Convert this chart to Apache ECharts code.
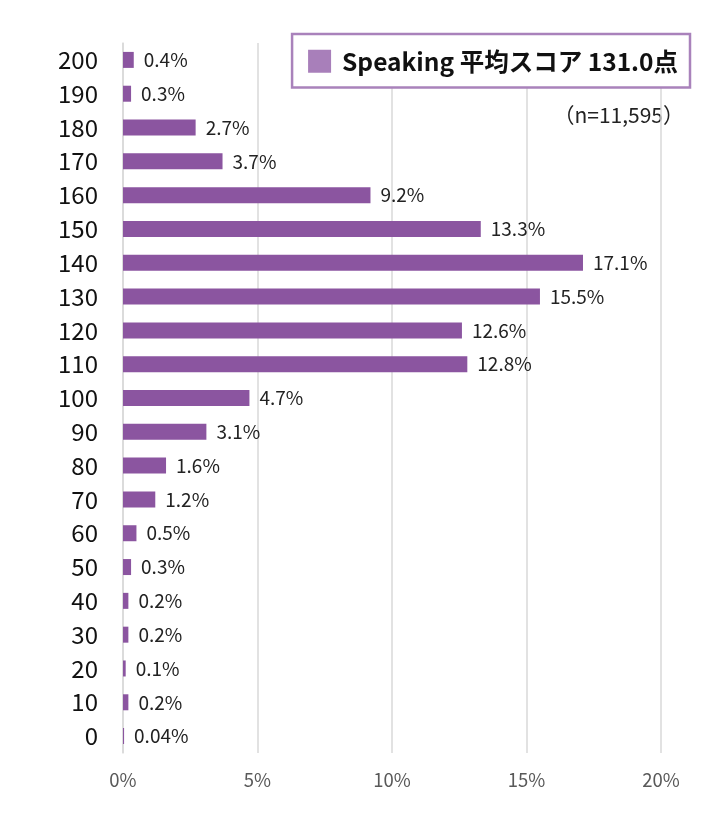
<!DOCTYPE html>
<html><head><meta charset="utf-8">
<script src="https://cdn.jsdelivr.net/npm/echarts@6/dist/echarts.min.js"></script>
<style>html,body{margin:0;padding:0;background:#fff}#c{width:720px;height:820px}</style>
</head><body><div id="c"></div>
<script>
const categories = ['0','10','20','30','40','50','60','70','80','90','100','110','120','130','140','150','160','170','180','190','200'];
const values = [0.04,0.2,0.1,0.2,0.2,0.3,0.5,1.2,1.6,3.1,4.7,12.8,12.6,15.5,17.1,13.3,9.2,3.7,2.7,0.3,0.4];
const valueLabels = ['0.04%','0.2%','0.1%','0.2%','0.2%','0.3%','0.5%','1.2%','1.6%','3.1%','4.7%','12.8%','12.6%','15.5%','17.1%','13.3%','9.2%','3.7%','2.7%','0.3%','0.4%'];
const seriesName = 'Speaking 平均スコア 131.0点';
const noteText = '（n=11,595）';
const FONT = '"Noto Sans CJK JP", "Noto Sans", sans-serif';
const chart = echarts.init(document.getElementById('c'));
chart.setOption({
  animation: false,
  textStyle: {fontFamily: FONT},
  grid: {left: 123, right: 59, top: 43, bottom: 67, containLabel: false},
  legend: {
    right: 30, top: 34, orient: 'horizontal',
    padding: [15, 12, 14, 16],
    borderColor: '#a982bb', borderWidth: 2.5, borderRadius: 0,
    backgroundColor: '#fff',
    itemWidth: 23, itemHeight: 23, itemGap: 10,
    icon: 'rect',
    textStyle: {fontSize: 24.5, fontWeight: 'bold', color: '#111', fontFamily: FONT, padding: [0, 0, 0, 6]},
    data: [{name: seriesName, itemStyle: {color: '#a87fba'}}]
  },
  graphic: [{
    type: 'text', right: 36, top: 105,
    style: {text: noteText, fontSize: 21, fill: '#222', fontFamily: FONT}
  }],
  xAxis: {
    type: 'value', min: 0, max: 20, interval: 5,
    axisLabel: {formatter: '{value}%', fontSize: 18.5, color: '#595959', margin: 18},
    splitLine: {show: true, lineStyle: {color: '#d9d9d9', width: 1.5}},
    axisLine: {show: false}, axisTick: {show: false}
  },
  yAxis: {
    type: 'category', data: categories,
    axisLabel: {fontSize: 24, color: '#111', margin: 25},
    axisLine: {show: true, lineStyle: {color: '#d9d9d9', width: 1.5}},
    axisTick: {show: false}
  },
  series: [{
    name: seriesName, type: 'bar', data: values,
    barWidth: 16,
    itemStyle: {color: '#8b55a0'},
    label: {
      show: true, position: 'right', distance: 10,
      fontSize: 19, color: '#222', fontFamily: FONT,
      formatter: p => valueLabels[p.dataIndex]
    }
  }]
});
</script></body></html>
